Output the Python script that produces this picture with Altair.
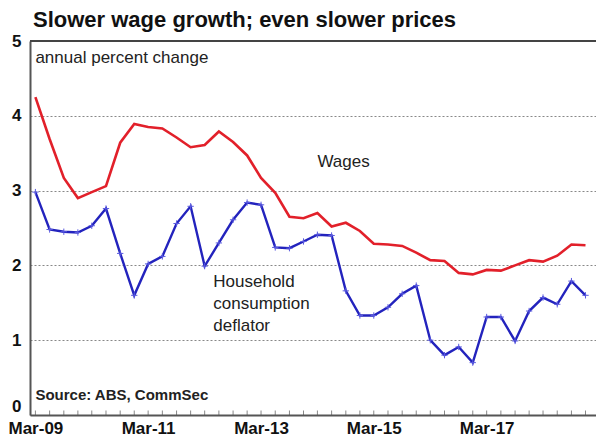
import altair as alt
import pandas as pd

# Quarterly, Mar-09 .. Dec-18
quarter_str = [d.strftime("%Y-%m-15") for d in pd.date_range("2009-03-01", periods=40, freq="3MS")]

wages = [4.25, 3.69, 3.17, 2.90,
         2.98, 3.06, 3.64, 3.89,
         3.85, 3.83, 3.71, 3.58,
         3.61, 3.79, 3.65, 3.47,
         3.17, 2.97, 2.65, 2.63,
         2.70, 2.52, 2.57, 2.46,
         2.29, 2.28, 2.26, 2.17,
         2.07, 2.06, 1.90, 1.88,
         1.94, 1.93, 2.00, 2.07,
         2.05, 2.13, 2.28, 2.27]

deflator = [2.98, 2.48, 2.45, 2.44,
            2.53, 2.76, 2.16, 1.60,
            2.02, 2.12, 2.56, 2.79,
            1.99, 2.30, 2.61, 2.84,
            2.81, 2.24, 2.23, 2.32,
            2.41, 2.40, 1.66, 1.33,
            1.33, 1.44, 1.62, 1.73,
            1.00, 0.80, 0.91, 0.70,
            1.31, 1.31, 0.99, 1.39,
            1.57, 1.48, 1.79, 1.60]

tick_dates = quarter_str + ["2019-03-15"]
label_years = [2009, 2011, 2013, 2015, 2017]

df = pd.DataFrame({"date": quarter_str, "wages": wages, "deflator": deflator})
ticks_df = pd.DataFrame({"date": tick_dates})

RED = "#e2202a"
BLUE = "#2323bd"
FONT = "Liberation Sans"

x_scale = alt.Scale(domain=[alt.DateTime(year=2009, month=2, date=8),
                            alt.DateTime(year=2019, month=2, date=21)])
y_scale = alt.Scale(domain=[0, 5], nice=False)

x_axis = alt.Axis(
    values=[alt.DateTime(year=y, month=3, date=15) for y in label_years],
    format="%b-%y", labelFont=FONT, labelFontSize=17, labelFontWeight="bold",
    labelColor="#111", ticks=False, grid=False, domainColor="#555",
    domainWidth=2, labelPadding=5, title=None, labelFlush=False,
)
y_axis = alt.Axis(
    values=[0, 1, 2, 3, 4, 5], format="d", labelFont=FONT, labelFontSize=17,
    labelFontWeight="bold", labelColor="#111", ticks=False, grid=True,
    gridColor="#888", gridDash=[2, 2], gridWidth=1, domainColor="#555",
    domainWidth=2, labelPadding=9, title=None,
    labelBaseline=alt.condition("datum.value == 0", alt.value("bottom"), alt.value("middle")),
)

base = alt.Chart(df)

wage_line = base.mark_line(color=RED, strokeWidth=2.6).encode(
    x=alt.X("date:T", scale=x_scale, axis=x_axis),
    y=alt.Y("wages:Q", scale=y_scale, axis=y_axis),
)

defl_line = base.mark_line(color=BLUE, strokeWidth=2.4).encode(
    x="date:T", y="deflator:Q"
)
defl_pts = base.mark_point(
    shape="M-1,0L1,0M0,-1L0,1", size=40, filled=False,
    color="#5a5ae0", strokeWidth=1, opacity=1,
).encode(x="date:T", y="deflator:Q")

top_rule = alt.Chart(pd.DataFrame({"y": [5]})).mark_rule(
    color="#444", strokeWidth=2).encode(y="y:Q")

tick_marks = alt.Chart(ticks_df).mark_tick(
    color="#555", size=9, thickness=1, clip=True, orient="vertical"
).encode(x="date:T", y=alt.datum(0))

def label(text, date, yval, size=17, weight="normal", lh=None):
    d = pd.DataFrame({"date": [date], "v": [yval]})
    kw = dict(align="left", baseline="alphabetic", font=FONT, fontSize=size,
              fontWeight=weight, color="#222")
    if lh:
        kw["lineHeight"] = lh
    return alt.Chart(d).mark_text(**kw).encode(
        x="date:T", y="v:Q", text=alt.value(text))

ann = [
    label("annual percent change", "2009-03-15", 4.70),
    label("Wages", "2014-03-15", 3.31),
    label(["Household", "consumption", "deflator"], "2012-05-10", 1.71, lh=22),
    label("Source: ABS, CommSec", "2009-03-15", 0.20, size=15, weight="bold"),
]

chart = alt.layer(
    wage_line, defl_line, defl_pts, top_rule, tick_marks, *ann
).properties(
    width=566, height=374,
    title=alt.TitleParams(
        "Slower wage growth; even slower prices", anchor="start", frame="group",
        dx=3, offset=0, font=FONT, fontSize=22, fontWeight="bold", color="#111",
    ),
    autosize=alt.AutoSizeParams(type="none"),
    padding={"left": 22, "top": 33, "right": 0, "bottom": 25},
).configure_view(stroke=None)

chart.save("out.html", embed_options={"renderer": "svg", "actions": False})
